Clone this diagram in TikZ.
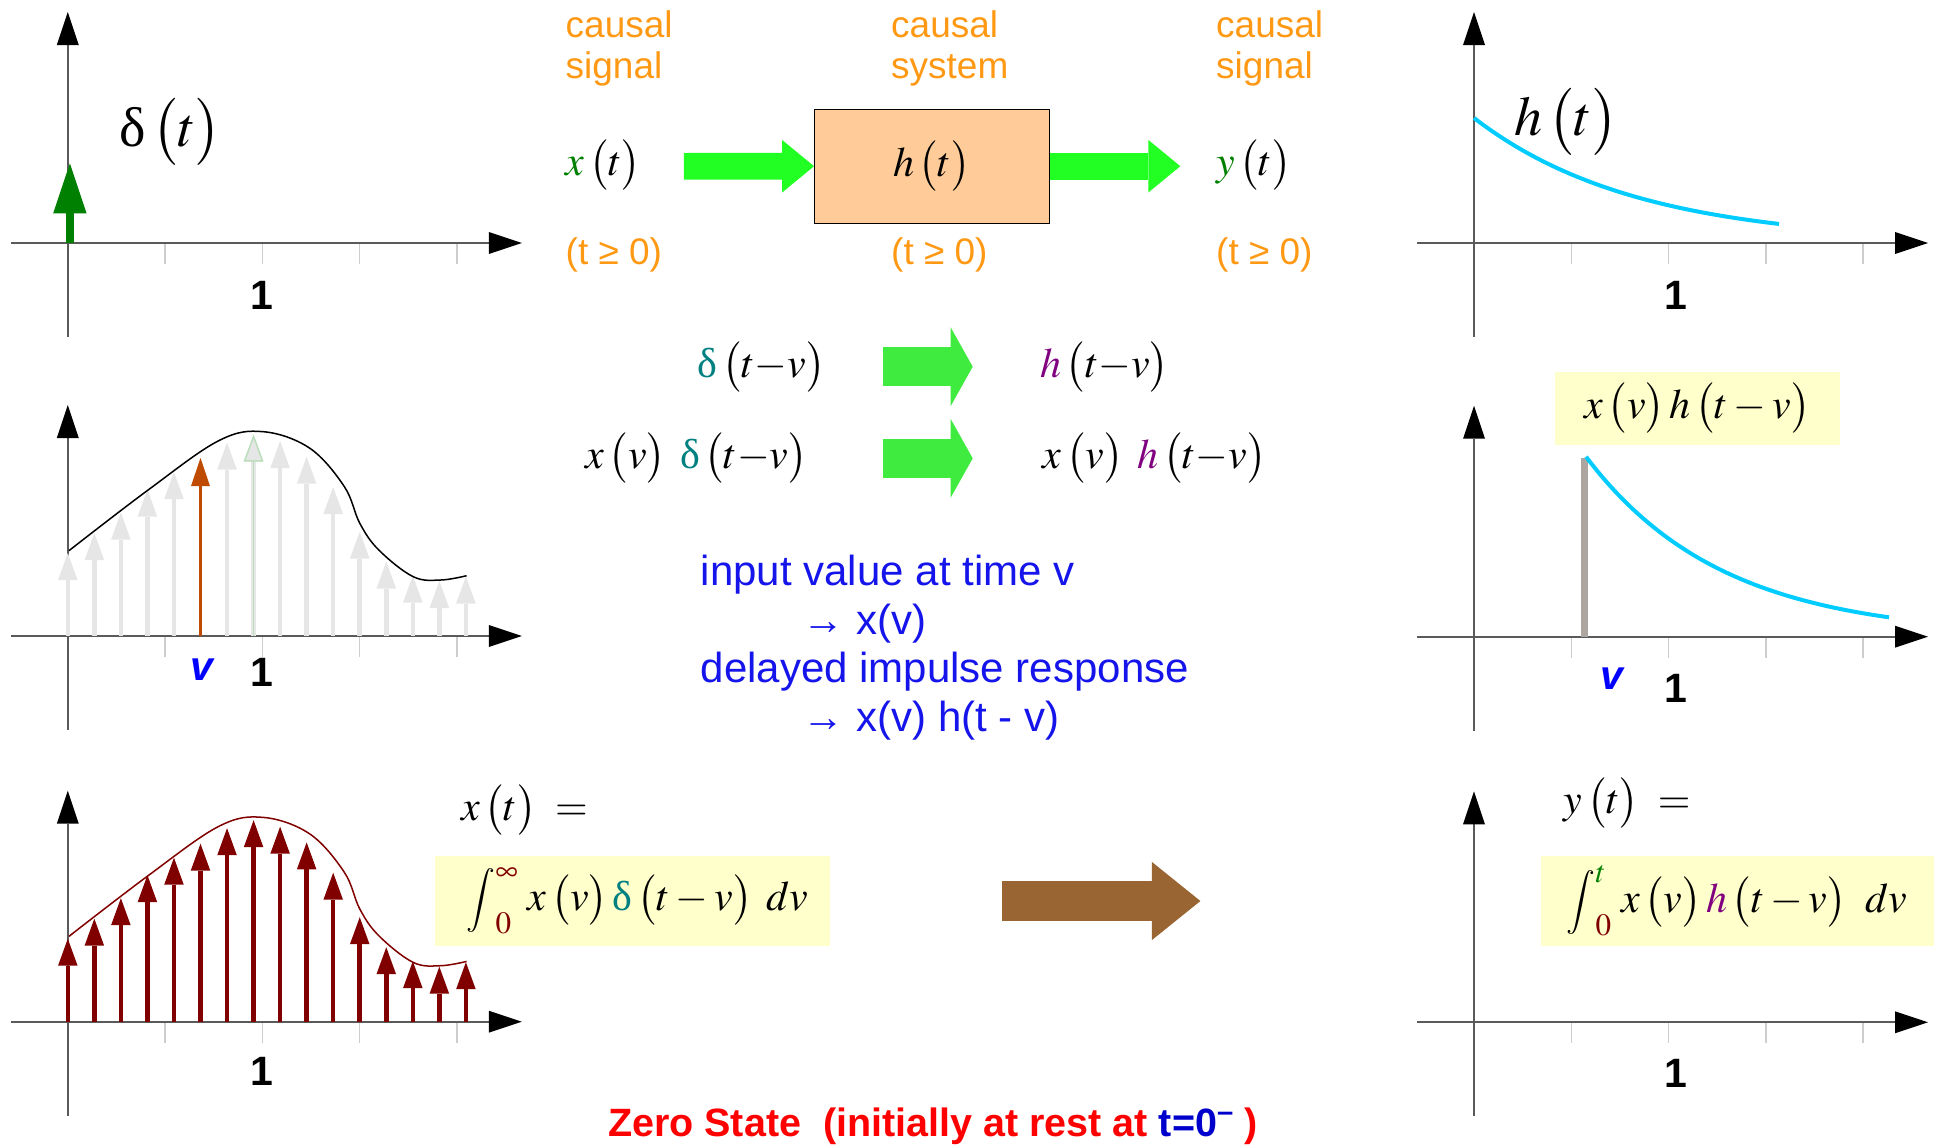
\RequirePackage{fix-cm}
\documentclass[tikz,border=0pt]{standalone}
\usepackage{amsmath}
\usepackage{mathptmx}
\usepackage{fontspec}
\setmainfont{Liberation Sans}
\newfontfamily\grk{Liberation Serif}
\usepackage{xcolor}
\usepackage{tikz}
\usetikzlibrary{arrows.meta,positioning}
\definecolor{axgray}{RGB}{90,90,90}
\definecolor{tkgray}{RGB}{205,205,205}
\definecolor{corange}{RGB}{255,153,20}
\definecolor{dgreen}{RGB}{0,128,0}
\definecolor{dteal}{RGB}{0,128,128}
\definecolor{hpurple}{RGB}{128,0,128}
\definecolor{dred}{RGB}{128,0,0}
\definecolor{fgreen}{RGB}{34,255,34}
\definecolor{mgreen}{RGB}{64,235,64}
\definecolor{fbrown}{RGB}{153,102,51}
\definecolor{peach}{RGB}{255,204,153}
\definecolor{lyellow}{RGB}{255,255,204}
\definecolor{hcyan}{RGB}{0,204,255}
\definecolor{bargray}{RGB}{172,165,160}
\definecolor{igray}{RGB}{230,230,230}
\definecolor{iorange}{RGB}{190,75,0}
\definecolor{pgreen}{RGB}{185,222,185}
\definecolor{nblue}{RGB}{20,20,235}
\definecolor{vblue}{RGB}{0,0,255}
\definecolor{zblue}{RGB}{0,0,204}
\newcommand{\dlt}{\mbox{\grk δ}}
\newcommand{\pa}[1]{\left(\vrule height .85em depth .3em width 0pt\relax #1\right)}
\newcommand{\bgint}{\mathop{\vcenter{\hbox{\resizebox*{!}{64pt}{$\displaystyle\int$}}}}\nolimits}
\newcommand{\drawaxes}{%
  \foreach \k in {0,1,2,3,4} \draw[tickln] ({97.3*\k},0) -- ({97.3*\k},-21);
  \draw[axisln] (-57,0) -- (454,0);
  \draw[axisln] (0,-94) -- (0,231);
}

\begin{document}
\begin{tikzpicture}[
  x=1pt, y=-1pt,
  axisln/.style  = {draw=axgray, line width=2pt,
                    -{Triangle[length=33pt, width=22pt, line width=0pt, color=black]}},
  tickln/.style  = {draw=tkgray, line width=1.5pt},
  numlbl/.style  = {font=\fontsize{41}{41}\selectfont\bfseries, inner sep=0},
  vlbl/.style    = {numlbl, font=\fontsize{41}{41}\selectfont\bfseries\itshape, text=vblue},
  caplbl/.style  = {text=corange, font=\fontsize{37}{41.6}\selectfont, align=left,
                    inner sep=0, anchor=north west},
  condlbl/.style = {text=corange, font=\fontsize{37}{37}\selectfont, inner sep=0, anchor=west},
  mth/.style     = {inner sep=0, font=\fontsize{42}{48}\selectfont},
  bigmth/.style  = {inner sep=0, font=\fontsize{56}{60}\selectfont},
  sysblk/.style  = {mth, draw=black, line width=1pt, fill=peach,
                    minimum width=234.5pt, minimum height=114.3pt},
  ybox/.style    = {mth, fill=lyellow},
  notelbl/.style = {text=nblue, font=\fontsize{42}{48.5}\selectfont, align=left,
                    inner sep=0, anchor=north west},
  zlbl/.style    = {text=red, font=\fontsize{39.5}{40}\selectfont\bfseries,
                    inner sep=0, anchor=west},
  fatgreen/.style = {draw=fgreen, line width=26.6pt,
                     -{Triangle[length=32pt, width=52.6pt, line width=0pt]}},
  fatmid/.style   = {draw=mgreen, line width=39.4pt,
                     -{Triangle[length=22pt, width=78.6pt, line width=0pt]}},
  fatbrown/.style = {draw=fbrown, line width=40pt,
                     -{Triangle[length=48.6pt, width=78.3pt, line width=0pt]}},
  imptop/.style  = {draw=dgreen, line width=7.6pt,
                    -{Triangle[length=50pt, width=33.4pt, line width=0pt]}},
  impgray/.style = {draw=igray, line width=4.5pt,
                    -{Triangle[length=27pt, width=19.6pt, line width=0pt]}},
  impred/.style  = {impgray, draw=dred},
  impor/.style   = {draw=iorange, line width=3.4pt,
                    -{Triangle[length=28pt, width=19pt, line width=0pt]}},
  imppale/.style = {draw=pgreen, line width=1.4pt,
                    -{Triangle[length=27pt, width=19.6pt, fill=igray]}},
  sigln/.style   = {draw=black, line width=1.5pt},
  hcurve/.style  = {draw=hcyan, line width=4pt},
  barln/.style   = {draw=bargray, line width=7pt}
]
\useasboundingbox (0,0) rectangle (1940,1146);

% top left: the impulse
\begin{scope}[shift={(67.8,243)}, y=1pt]
  \drawaxes
  \draw[imptop] (2.1,0) -- (2.1,79.7);
  \node[bigmth] (dlbl) at (102.7,111) {$\dlt\pa{t}$};
  \node[numlbl] (oneA) at (193.9,-52) {1};
\end{scope}

% top middle: the system
\node[caplbl] (capin)  at (565.5,10) {causal\\signal};
\node[caplbl] (capsys) at (891,10)   {causal\\system};
\node[caplbl] (capout) at (1216,10)  {causal\\signal};
\node[mth, anchor=west] (xt) at (565.5,165) {$\textcolor{dgreen}{x}\pa{t}$};
\node[sysblk] (blk) at (931.8,166.2) {$h\pa{t}$};
\node[mth, anchor=west] (yt) at (1216,165) {$\textcolor{dgreen}{y}\pa{t}$};
\coordinate (xin) at (683.9,166.3);
\draw[fatgreen] (xin) -- (blk.west);
\draw[fatgreen, shorten >=35.7pt] (blk.east) -- (blk.east -| yt.west);
\node[condlbl] (condin)  at (565.5,255) {(t ≥ 0)};
\node[condlbl] (condsys) at (891,255)   {(t ≥ 0)};
\node[condlbl] (condout) at (1216,255)  {(t ≥ 0)};

% top right: the impulse response
\begin{scope}[shift={(1474,243)}, y=1pt]
  \drawaxes
  \draw[hcurve] plot[domain=0:305, samples=60] (\x,{125*exp(-0.00617*\x)});
  \node[bigmth] (hlbl) at (92,121.3) {$h\pa{t}$};
  \node[numlbl] (oneB) at (201.5,-52) {1};
\end{scope}

% middle: delayed impulse
\node[mth, anchor=east] (dtv) at (825.7,366.7)
  {$\textcolor{dteal}{\dlt}\pa{t{-}v}$};
\node[mth, anchor=west] (htv) at (1040,366.7)
  {$\textcolor{hpurple}{h}\pa{t{-}v}$};
\draw[fatmid, shorten <=57.7pt, shorten >=67.3pt] (dtv.east) -- (htv.west);
\node[mth, anchor=east] (xdtv) at (807.9,458.3)
  {$x\pa{v}\;\textcolor{dteal}{\dlt}\pa{t{-}v}$};
\node[mth, anchor=west] (xhtv) at (1042.6,458.3)
  {$x\pa{v}\;\textcolor{hpurple}{h}\pa{t{-}v}$};
\draw[fatmid, shorten <=75.5pt, shorten >=69.9pt] (xdtv.east) -- (xhtv.west);
\node[notelbl] (expl) at (700.7,555)
  {input value at time v\\
   \hspace*{102pt}→ x(v)\\
   delayed impulse response\\
   \hspace*{102pt}→ x(v) h(t - v)};

% middle left: sampled input
\begin{scope}[shift={(67.8,636)}, y=1pt]
  \drawaxes
  \foreach \i/\h in {0/83,1/103,2/123.5,3/146.5,4/164,6/193.5,7/201.5,8/195,
                     9/179.3,10/149,11/104.5,12/74.5,13/60.5,14/55,15/59.5}
    \draw[impgray] ({26.54*\i},0) -- ({26.54*\i},\h);
  \draw[imppale] ({26.54*7},0) -- ({26.54*7},201.5);
  \draw[impor] ({26.54*5},0) -- ({26.54*5},178);
  \draw[sigln] plot[smooth, tension=0.6] coordinates {(1.1,85.3) (80.3,146)
    (150.9,195.3) (195.6,204.3) (242.1,187.7) (276.6,149.3) (292,112.7)
    (311,86) (345.4,59.3) (373,56) (398.8,60.3)};
  \node[vlbl] (vA) at (134.5,-34) {v};
  \node[numlbl] (oneC) at (193.9,-36) {1};
\end{scope}

% middle right: one delayed response
\begin{scope}[shift={(1474,636.7)}, y=1pt]
  \drawaxes
  \draw[barln] (110.2,0) -- (110.2,178.4);
  \draw[hcurve] plot[domain=0:303, samples=60] ({112+\x},{180*exp(-0.00735*\x)});
  \node[vlbl] (vB) at (137.8,-41.6) {v};
  \node[numlbl] (oneD) at (201.5,-51.6) {1};
\end{scope}
\node[ybox, minimum width=284.7pt, minimum height=73.3pt] (xvh) at (1697.4,408.4)
  {$x\pa{v}h\pa{t-v}$};

% bottom left: the whole input
\begin{scope}[shift={(67.8,1021.7)}, y=1pt]
  \drawaxes
  \foreach \i/\h in {0/83,1/103,2/123.5,3/146.5,4/164,5/178,6/193.5,7/201.5,8/195,
                     9/179.3,10/149,11/104.5,12/74.5,13/60.5,14/55,15/59.5}
    \draw[impred] ({26.54*\i},0) -- ({26.54*\i},\h);
  \draw[sigln, draw=dred] plot[smooth, tension=0.6] coordinates {(1.1,85.3) (80.3,146)
    (150.9,195.3) (195.6,204.3) (242.1,187.7) (276.6,149.3) (292,112.7)
    (311,86) (345.4,59.3) (373,56) (398.8,60.3)};
  \node[numlbl] (oneE) at (193.9,-50) {1};
\end{scope}
\node[mth, anchor=west] (xeq) at (460.8,810) {$x\pa{t}\;=$};
\node[ybox, minimum width=394.4pt, minimum height=90pt] (xint) at (632.5,901)
  {\hspace*{10pt}$\bgint_{\textcolor{dred}{0}}^{\textcolor{dred}{\infty}}\,
    x\pa{v}\textcolor{dteal}{\dlt}\pa{t-v}\;dv$};

% bottom right: the output
\begin{scope}[shift={(1474,1022.3)}, y=1pt]
  \drawaxes
  \node[numlbl] (oneF) at (201.5,-50.7) {1};
\end{scope}
\node[mth, anchor=west] (yeq) at (1563.6,803.3) {$y\pa{t}\;=$};
\node[ybox, minimum width=393.2pt, minimum height=90pt] (yint) at (1737.1,901)
  {$\bgint_{\textcolor{dred}{0}}^{\textcolor{dgreen}{t}}\,
    x\pa{v}\textcolor{hpurple}{h}\pa{t-v}\;\,dv$};
\draw[fatbrown, shorten <=171.9pt, shorten >=339.9pt] (xint.east) -- (yint.west);

\node[zlbl] (zs) at (607.8,1126)
  {Zero State\ \ (initially at rest at \textcolor{zblue}{t=0\textsuperscript{–}}\ )};
\end{tikzpicture}
\end{document}
